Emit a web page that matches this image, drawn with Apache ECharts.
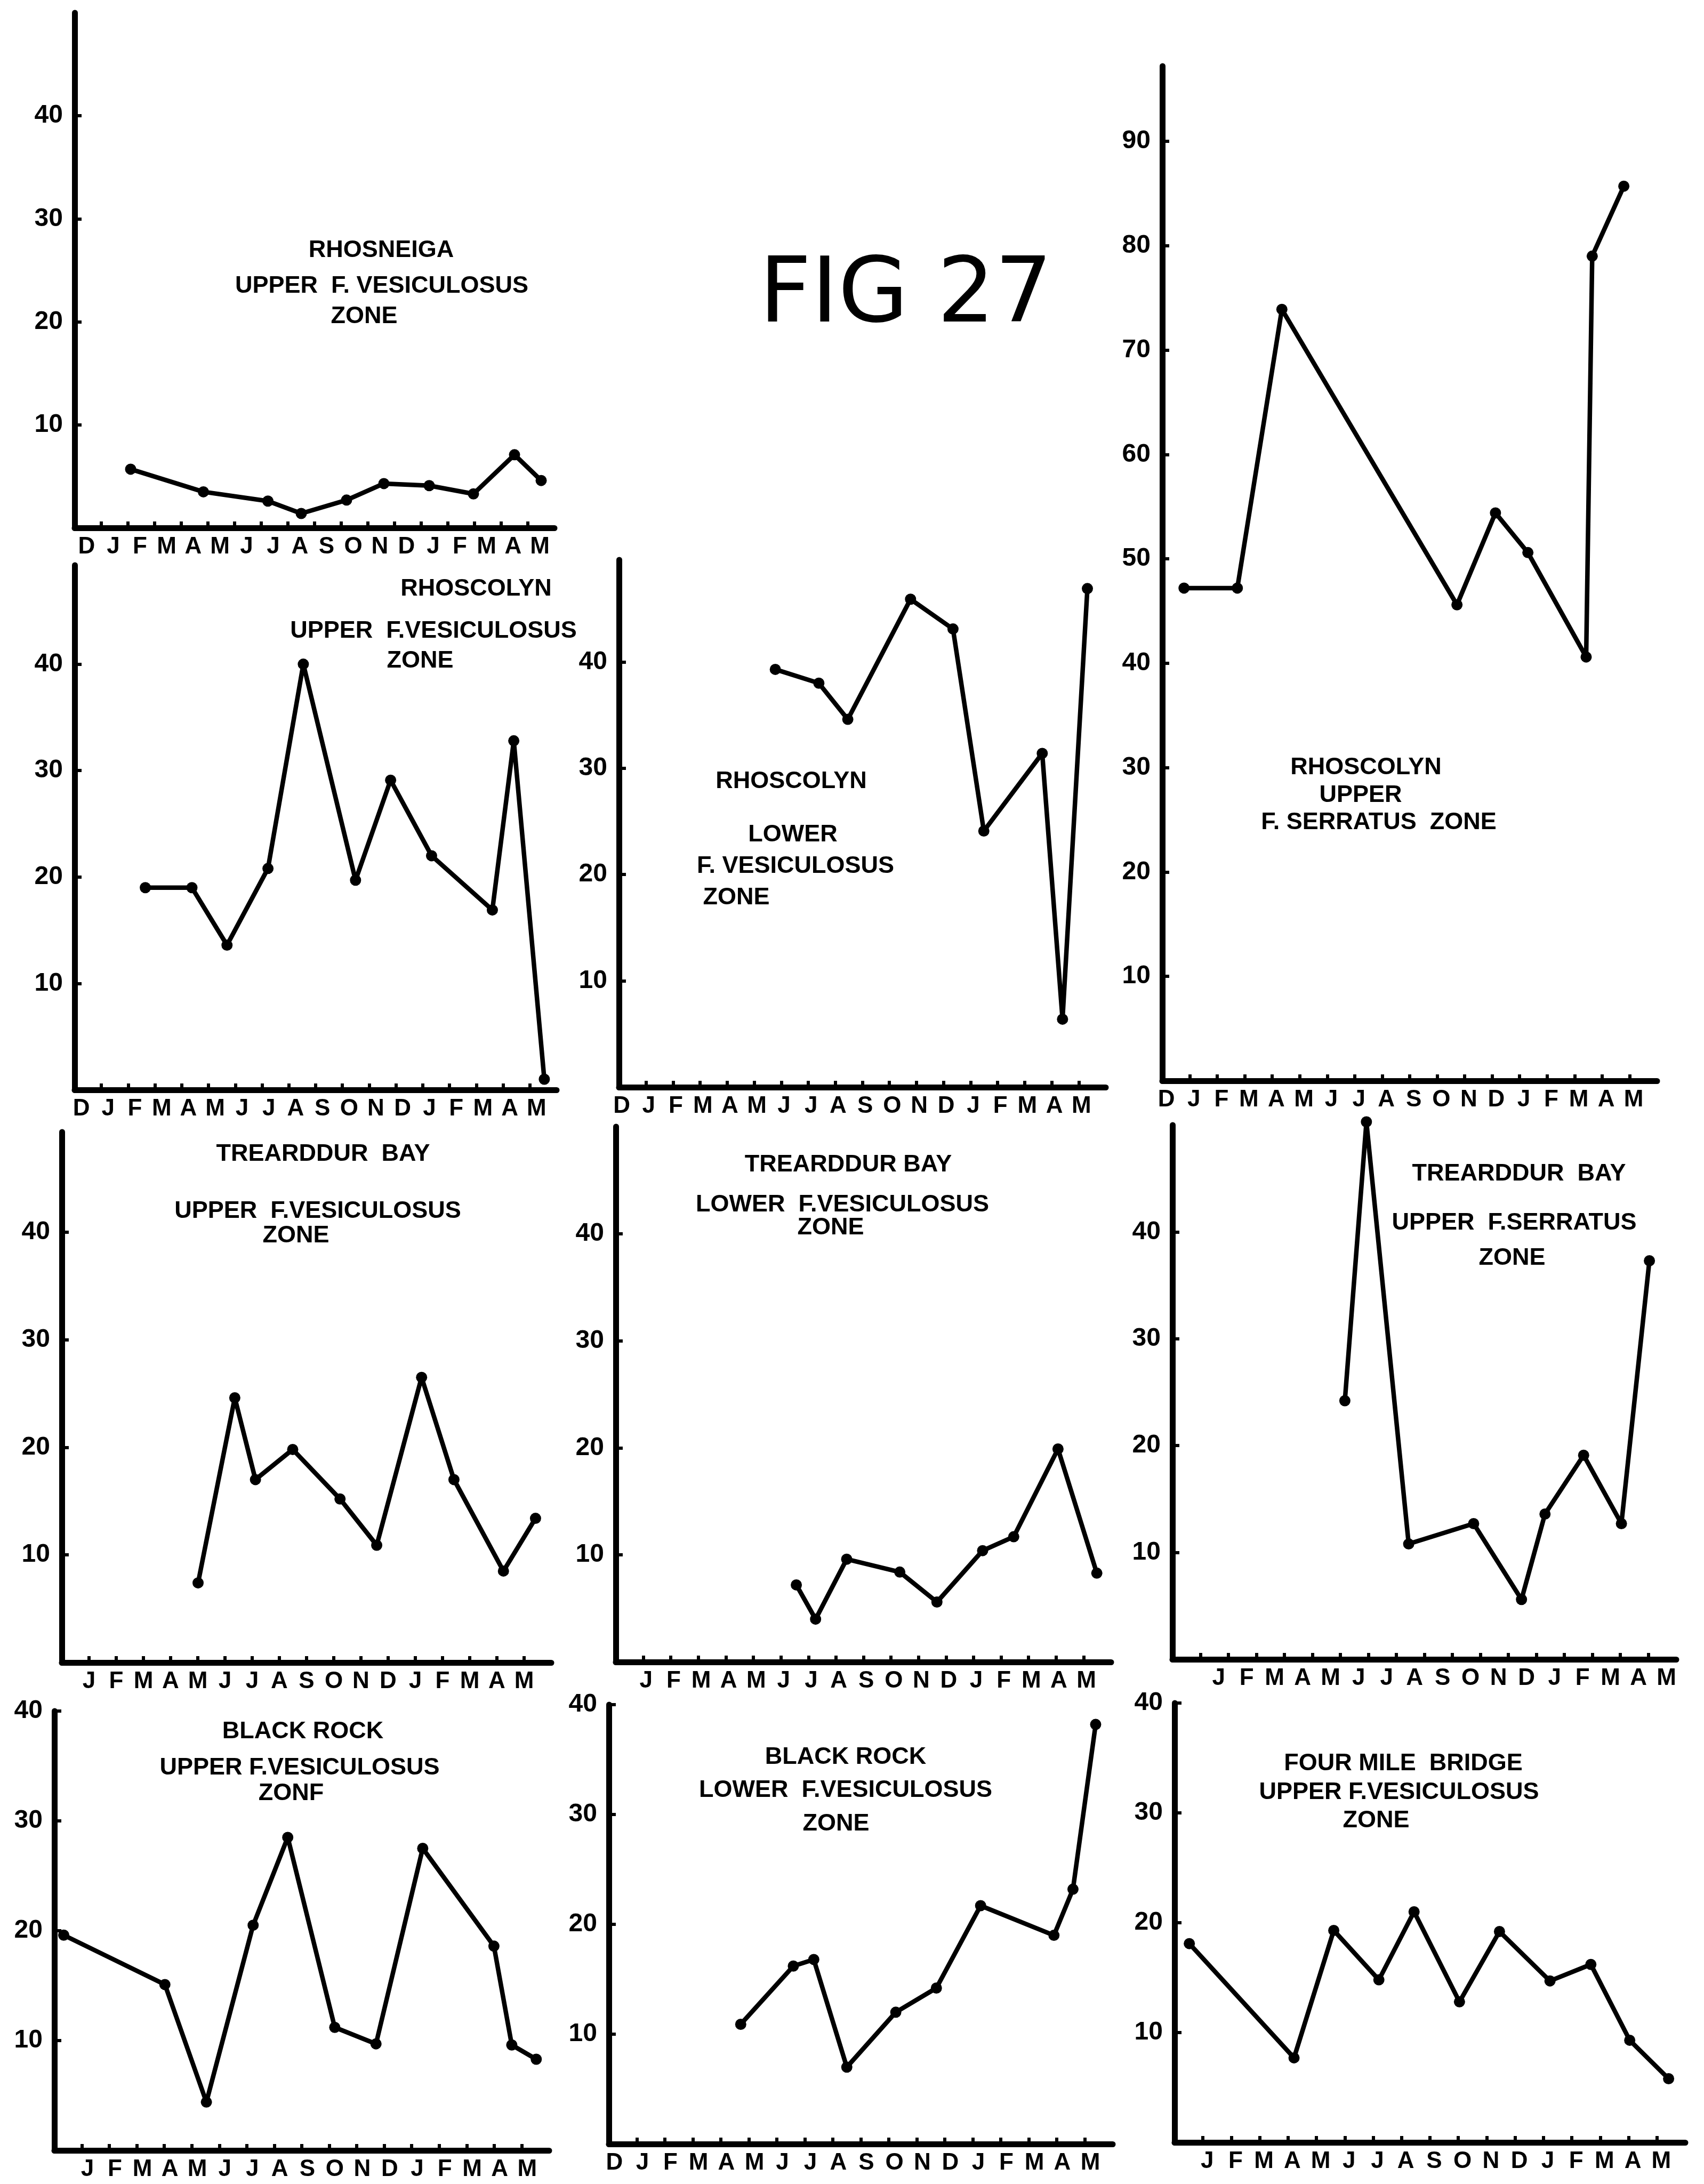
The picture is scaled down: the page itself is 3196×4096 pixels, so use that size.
<!DOCTYPE html>
<html><head><meta charset="utf-8">
<script src="https://cdn.jsdelivr.net/npm/echarts@6/dist/echarts.min.js"></script>
<style>html,body{margin:0;padding:0;background:#fff;}#c{width:3196px;height:4096px;}</style>
</head><body><div id="c"></div>
<script>
// ---- tick labels ----
const monthsFromD = ['D','J','F','M','A','M','J','J','A','S','O','N','D','J','F','M','A','M'];
const monthsFromJ = ['','J','F','M','A','M','J','J','A','S','O','N','D','J','F','M','A','M'];
const yTicks40 = [10,20,30,40];
const yTicks90 = [10,20,30,40,50,60,70,80,90];

// ---- series values (x = position in months along the axis, y = value) ----
const rhosneigaUpperVesX = [2.10, 4.83, 7.25, 8.50, 10.2, 11.6, 13.3, 14.96, 16.5, 17.5];
const rhosneigaUpperVesY = [5.7, 3.5, 2.6, 1.4, 2.7, 4.3, 4.1, 3.3, 7.1, 4.6];

const rhoscolynUpperSerX = [0.79, 2.73, 4.35, 10.72, 12.12, 13.3, 15.42, 15.64, 16.79];
const rhoscolynUpperSerY = [47.2, 47.2, 73.9, 45.6, 54.4, 50.6, 40.6, 79.0, 85.7];

const rhoscolynUpperVesX = [2.64, 4.38, 5.69, 7.22, 8.54, 10.49, 11.8, 13.33, 15.6, 16.4, 17.54];
const rhoscolynUpperVesY = [19.0, 19.0, 13.6, 20.8, 40.0, 19.7, 29.1, 22.0, 16.9, 32.8, 1.0];

const rhoscolynLowerVesX = [5.78, 7.39, 8.46, 10.78, 12.35, 13.49, 15.65, 16.4, 17.32];
const rhoscolynLowerVesY = [39.3, 38.0, 34.6, 45.9, 43.1, 24.1, 31.4, 6.4, 46.9];

const trearddurUpperVesX = [5.01, 6.36, 7.12, 8.49, 10.23, 11.58, 13.23, 14.42, 16.24, 17.42];
const trearddurUpperVesY = [7.4, 24.6, 17.0, 19.8, 15.2, 10.9, 26.5, 17.0, 8.5, 13.4];

const trearddurLowerVesX = [6.56, 7.26, 8.39, 10.32, 11.67, 13.33, 14.46, 16.07, 17.48];
const trearddurLowerVesY = [7.2, 4.0, 9.6, 8.4, 5.6, 10.4, 11.7, 19.9, 8.3];

const trearddurUpperSerX = [6.16, 6.93, 8.44, 10.76, 12.47, 13.31, 14.69, 16.04, 17.04];
const trearddurUpperSerY = [24.2, 50.3, 10.8, 12.7, 5.6, 13.6, 19.1, 12.7, 37.3];

const blackRockUpperVesX = [0.34, 4.02, 5.53, 7.23, 8.49, 10.2, 11.7, 13.4, 15.99, 16.64, 17.53];
const blackRockUpperVesY = [19.6, 15.1, 4.4, 20.5, 28.5, 11.2, 9.7, 27.5, 18.6, 9.6, 8.3];

const blackRockLowerVesX = [4.71, 6.59, 7.32, 8.5, 10.25, 11.7, 13.28, 15.9, 16.58, 17.39];
const blackRockLowerVesY = [10.9, 16.2, 16.8, 7.0, 12.0, 14.2, 21.7, 19.0, 23.2, 38.2];

const fourMileUpperVesX = [0.52, 4.21, 5.61, 7.2, 8.44, 10.04, 11.45, 13.23, 14.67, 16.04, 17.41];
const fourMileUpperVesY = [18.1, 7.7, 19.3, 14.8, 21.0, 12.8, 19.2, 14.7, 16.2, 9.3, 5.8];

// ---- panel layout (pixels) ----
const panels = [
  {x: rhosneigaUpperVesX, y: rhosneigaUpperVesY, months: monthsFromD, yTicks: yTicks40, yMax: 50,
   grid: {left: 140, top: 24, width: 900, height: 966}, off: 0.45,
   title: [['RHOSNEIGA', 715, 470], ['UPPER  F. VESICULOSUS', 716, 537], ['ZONE', 683, 594]]},
  {x: rhoscolynUpperSerX, y: rhoscolynUpperSerY, months: monthsFromD, yTicks: yTicks90, yMax: 97.2,
   grid: {left: 2180, top: 124, width: 928, height: 1903}, off: 0.15,
   title: [['RHOSCOLYN', 2562, 1440], ['UPPER', 2552, 1492], ['F. SERRATUS  ZONE', 2586, 1543]]},
  {x: rhoscolynUpperVesX, y: rhoscolynUpperVesY, months: monthsFromD, yTicks: yTicks40, yMax: 49.3,
   grid: {left: 140, top: 1060, width: 904, height: 984}, off: 0.25,
   title: [['RHOSCOLYN', 893, 1105], ['UPPER  F.VESICULOSUS', 813, 1184], ['ZONE', 788, 1240]]},
  {x: rhoscolynLowerVesX, y: rhoscolynLowerVesY, months: monthsFromD, yTicks: yTicks40, yMax: 49.6,
   grid: {left: 1161, top: 1050, width: 913, height: 989}, off: 0.1,
   title: [['RHOSCOLYN', 1484, 1466], ['LOWER', 1487, 1566], ['F. VESICULOSUS', 1492, 1625], ['ZONE', 1381, 1684]]},
  {x: trearddurUpperVesX, y: trearddurUpperVesY, months: monthsFromJ, yTicks: yTicks40, yMax: 49.3,
   grid: {left: 116, top: 2123, width: 918, height: 995}, off: 0.0,
   title: [['TREARDDUR  BAY', 606, 2165], ['UPPER  F.VESICULOSUS', 596, 2272], ['ZONE', 555, 2318]]},
  {x: trearddurLowerVesX, y: trearddurLowerVesY, months: monthsFromJ, yTicks: yTicks40, yMax: 50,
   grid: {left: 1155, top: 2113, width: 929, height: 1004}, off: 0.1,
   title: [['TREARDDUR BAY', 1591, 2185], ['LOWER  F.VESICULOSUS', 1580, 2260], ['ZONE', 1558, 2303]]},
  {x: trearddurUpperSerX, y: trearddurUpperSerY, months: monthsFromJ, yTicks: yTicks40, yMax: 50,
   grid: {left: 2199, top: 2110, width: 945, height: 1002}, off: 0.65,
   title: [['TREARDDUR  BAY', 2849, 2202], ['UPPER  F.SERRATUS', 2840, 2294], ['ZONE', 2836, 2360]]},
  {x: blackRockUpperVesX, y: blackRockUpperVesY, months: monthsFromJ, yTicks: yTicks40, yMax: 40,
   grid: {left: 102, top: 3209, width: 928, height: 824}, off: 0.2,
   title: [['BLACK ROCK', 568, 3248], ['UPPER F.VESICULOSUS', 562, 3316], ['ZONF', 546, 3364]]},
  {x: blackRockLowerVesX, y: blackRockLowerVesY, months: monthsFromD, yTicks: yTicks40, yMax: 40,
   grid: {left: 1142, top: 3197, width: 945, height: 824}, off: 0.2,
   title: [['BLACK ROCK', 1586, 3296], ['LOWER  F.VESICULOSUS', 1586, 3358], ['ZONE', 1568, 3421]]},
  {x: fourMileUpperVesX, y: fourMileUpperVesY, months: monthsFromJ, yTicks: yTicks40, yMax: 40,
   grid: {left: 2203, top: 3194, width: 958, height: 824}, off: 0.15,
   title: [['FOUR MILE  BRIDGE', 2632, 3308], ['UPPER F.VESICULOSUS', 2624, 3362], ['ZONE', 2581, 3415]]}
];

const FONT = "'Liberation Sans', Arial, sans-serif";
const tickPositions = [];
for (let i = 1; i <= 17; i++) tickPositions.push(i);

const grids = [], xAxes = [], yAxes = [], series = [], graphics = [];
panels.forEach((p, i) => {
  grids.push(Object.assign({containLabel: false, outerBoundsMode: 'none'}, p.grid));
  const off = p.off, months = p.months;
  const labelPos = [];
  months.forEach((m, k) => { if (m) labelPos.push(k + off); });
  xAxes.push({
    type: 'value', gridIndex: i, min: 0, max: 18,
    axisLine: {show: true, onZero: false, lineStyle: {color: '#000', width: 11, cap: 'round'}},
    axisTick: {show: true, inside: true, length: 12, lineStyle: {color: '#000', width: 6}, customValues: tickPositions},
    axisLabel: {show: true, customValues: labelPos, margin: 14, color: '#000', fontSize: 44, fontWeight: 'bold', fontFamily: FONT,
      formatter: (v) => months[Math.round(v - off)] || ''},
    splitLine: {show: false}
  });
  yAxes.push({
    type: 'value', gridIndex: i, min: 0, max: p.yMax,
    axisLine: {show: true, onZero: false, lineStyle: {color: '#000', width: 11, cap: 'round'}},
    axisTick: {show: true, inside: true, length: 13, lineStyle: {color: '#000', width: 6}, customValues: p.yTicks},
    axisLabel: {show: true, customValues: p.yTicks, margin: 22, color: '#000', fontSize: 48, fontWeight: 'bold', fontFamily: FONT},
    splitLine: {show: false}
  });
  series.push({
    type: 'line', xAxisIndex: i, yAxisIndex: i, clip: false,
    data: p.x.map((xv, k) => [xv, p.y[k]]),
    symbol: 'circle', symbolSize: 21,
    lineStyle: {color: '#000', width: 8.5},
    itemStyle: {color: '#000'},
    animation: false
  });
  p.title.forEach(t => {
    graphics.push({type: 'text', x: t[1], y: t[2], style: {text: t[0], fill: '#000',
      font: "bold 45px " + FONT, textAlign: 'center', textVerticalAlign: 'middle'}});
  });
});
graphics.push({type: 'text', x: 1699, y: 559, style: {text: 'FIG 27', fill: '#000',
  font: "170px 'DejaVu Sans', sans-serif", textAlign: 'center', textVerticalAlign: 'middle'}});

const chart = echarts.init(document.getElementById('c'), null, {renderer: 'canvas'});
chart.setOption({
  backgroundColor: '#fff',
  animation: false,
  grid: grids, xAxis: xAxes, yAxis: yAxes, series: series,
  graphic: {elements: graphics}
});
</script>
</body></html>
